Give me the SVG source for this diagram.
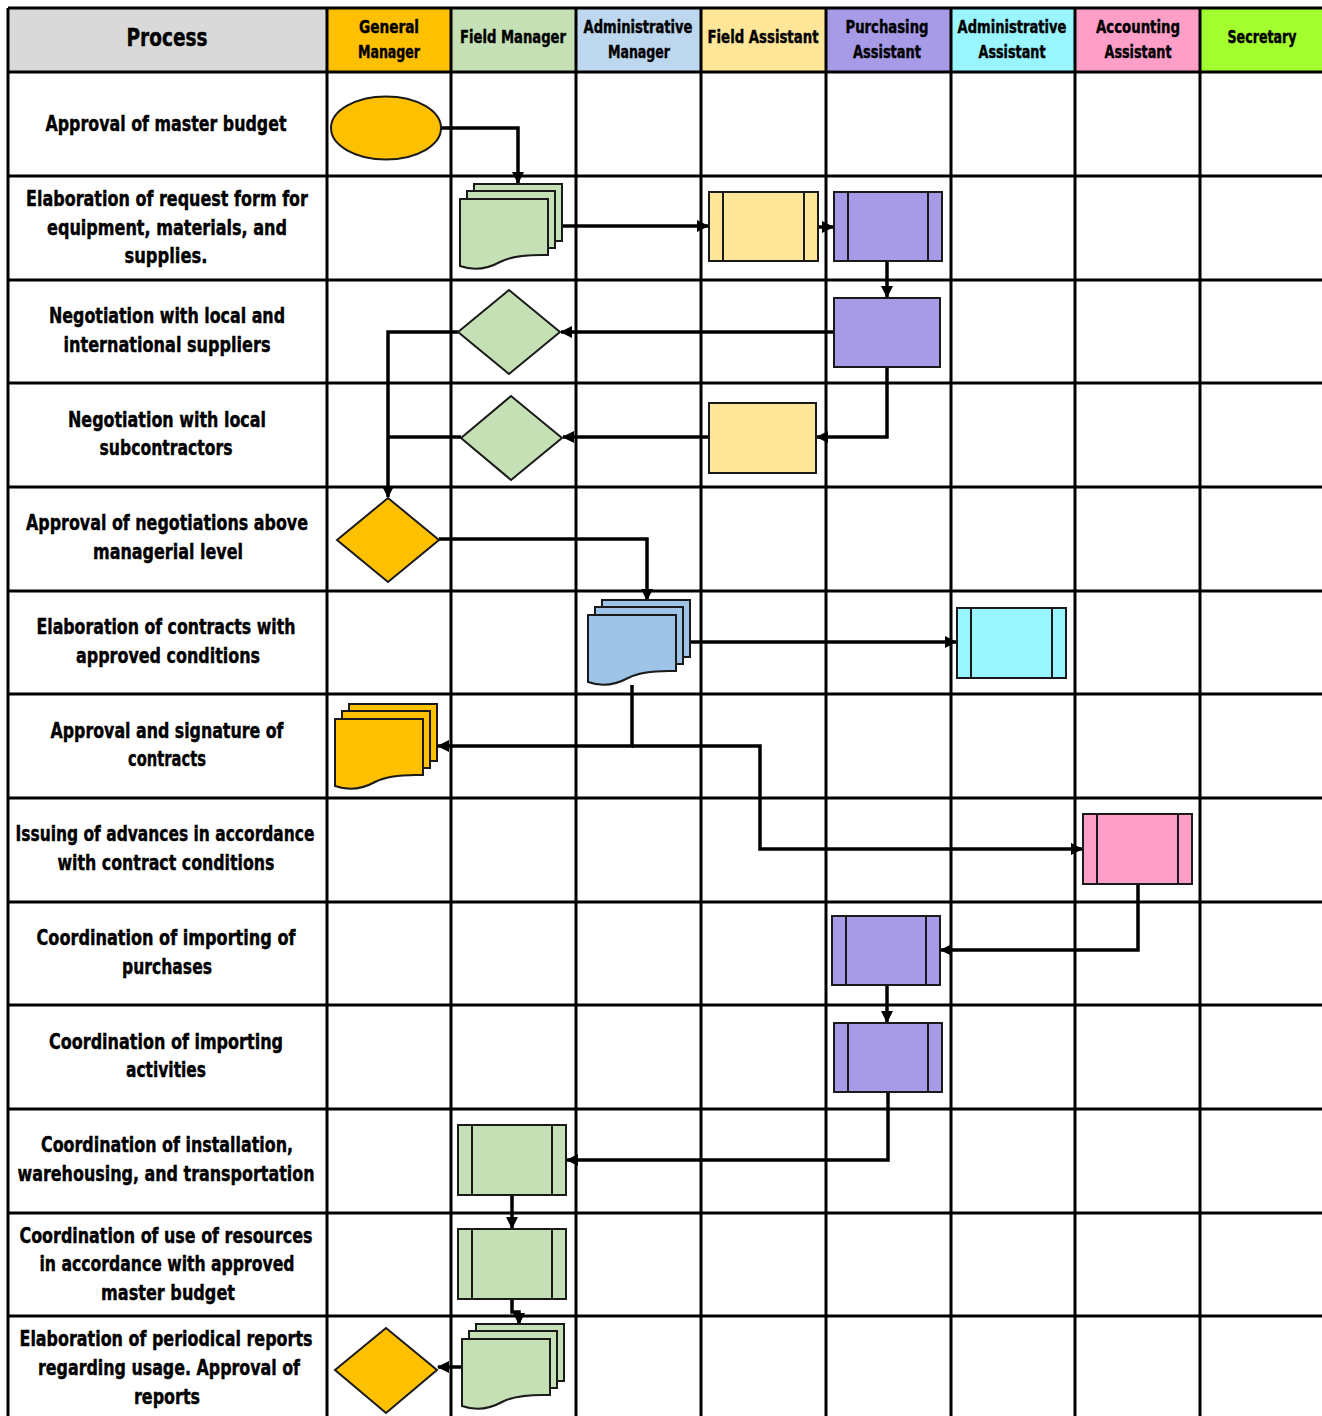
<svg xmlns="http://www.w3.org/2000/svg" xmlns:xlink="http://www.w3.org/1999/xlink" width="1322" height="1416" viewBox="0 0 1322 1416">
<style>
text{font-family:"DejaVu Sans Condensed","DejaVu Sans",sans-serif;font-stretch:condensed;font-weight:bold;fill:#000;stroke:#000;stroke-width:0.4;text-anchor:middle}
.lbl{font-size:21px}
.hd{font-size:17px}
.grid{stroke:#000;stroke-width:3;fill:none}
.node{stroke:#1a1a1a;stroke-width:2}
.conn{stroke:#000;stroke-width:3.5;fill:none;stroke-linejoin:miter}
.arr{marker-end:url(#ah)}
</style>
<defs>
<marker id="ah" markerUnits="userSpaceOnUse" markerWidth="13" markerHeight="13" refX="11" refY="6" orient="auto">
<path d="M0,0 L12,6 L0,12 z" fill="#000"/>
</marker>
<g id="mdoc">
<rect x="14" y="-15" width="88" height="57" stroke="#1a1a1a" stroke-width="2"/>
<rect x="7" y="-8" width="88" height="57" stroke="#1a1a1a" stroke-width="2"/>
<path d="M0,0 H88 V56 Q55,55 40,63 Q20,74 0,67 Z" stroke="#1a1a1a" stroke-width="2"/>
</g>
</defs>
<rect x="0" y="0" width="1322" height="1416" fill="#fff"/>
<g id="header">
<rect x="8" y="8" width="319" height="64" fill="#D9D9D9"/>
<rect x="327" y="8" width="124" height="64" fill="#FFC000"/>
<rect x="451" y="8" width="125" height="64" fill="#C5E0B4"/>
<rect x="576" y="8" width="125" height="64" fill="#BDD7EE"/>
<rect x="701" y="8" width="125" height="64" fill="#FFE699"/>
<rect x="826" y="8" width="125" height="64" fill="#A79BE8"/>
<rect x="951" y="8" width="124" height="64" fill="#99F5FF"/>
<rect x="1075" y="8" width="125" height="64" fill="#FF9FC8"/>
<rect x="1200" y="8" width="122" height="64" fill="#A3FF2E"/>
<text x="167" y="46" style="font-size:25px" textLength="81" lengthAdjust="spacingAndGlyphs">Process</text>
<text class="hd" x="389" y="33" textLength="60" lengthAdjust="spacingAndGlyphs">General</text>
<text class="hd" x="389" y="58" textLength="62" lengthAdjust="spacingAndGlyphs">Manager</text>
<text class="hd" x="513" y="43" textLength="106" lengthAdjust="spacingAndGlyphs">Field Manager</text>
<text class="hd" x="638" y="33" textLength="109" lengthAdjust="spacingAndGlyphs">Administrative</text>
<text class="hd" x="639" y="58" textLength="62" lengthAdjust="spacingAndGlyphs">Manager</text>
<text class="hd" x="763" y="43" textLength="111" lengthAdjust="spacingAndGlyphs">Field Assistant</text>
<text class="hd" x="887" y="33" textLength="83" lengthAdjust="spacingAndGlyphs">Purchasing</text>
<text class="hd" x="887" y="58" textLength="68" lengthAdjust="spacingAndGlyphs">Assistant</text>
<text class="hd" x="1012" y="33" textLength="109" lengthAdjust="spacingAndGlyphs">Administrative</text>
<text class="hd" x="1012" y="58" textLength="67" lengthAdjust="spacingAndGlyphs">Assistant</text>
<text class="hd" x="1138" y="33" textLength="84" lengthAdjust="spacingAndGlyphs">Accounting</text>
<text class="hd" x="1138" y="58" textLength="67" lengthAdjust="spacingAndGlyphs">Assistant</text>
<text class="hd" x="1262" y="43" textLength="69" lengthAdjust="spacingAndGlyphs">Secretary</text>
</g>
<g id="gridlines" class="grid">
<path d="M8,8 H1322 M8,72 H1322 M8,176 H1322 M8,280 H1322 M8,383 H1322 M8,487 H1322 M8,591 H1322 M8,694 H1322 M8,798 H1322 M8,902 H1322 M8,1005 H1322 M8,1109 H1322 M8,1213 H1322 M8,1316 H1322"/>
<path d="M8,8 V1416 M327,8 V1416 M451,8 V1416 M576,8 V1416 M701,8 V1416 M826,8 V1416 M951,8 V1416 M1075,8 V1416 M1200,8 V1416"/>
</g>
<g id="labels" class="lbl">
<text x="166" y="131" textLength="241" lengthAdjust="spacingAndGlyphs">Approval of master budget</text>
<text x="167" y="206" textLength="282" lengthAdjust="spacingAndGlyphs">Elaboration of request form for</text>
<text x="167" y="235" textLength="240" lengthAdjust="spacingAndGlyphs">equipment, materials, and</text>
<text x="166" y="263" textLength="83" lengthAdjust="spacingAndGlyphs">supplies.</text>
<text x="167" y="323" textLength="236" lengthAdjust="spacingAndGlyphs">Negotiation with local and</text>
<text x="167" y="352" textLength="207" lengthAdjust="spacingAndGlyphs">international suppliers</text>
<text x="167" y="427" textLength="198" lengthAdjust="spacingAndGlyphs">Negotiation with local</text>
<text x="166" y="455" textLength="133" lengthAdjust="spacingAndGlyphs">subcontractors</text>
<text x="167" y="530" textLength="282" lengthAdjust="spacingAndGlyphs">Approval of negotiations above</text>
<text x="168" y="559" textLength="150" lengthAdjust="spacingAndGlyphs">managerial level</text>
<text x="166" y="634" textLength="259" lengthAdjust="spacingAndGlyphs">Elaboration of contracts with</text>
<text x="168" y="663" textLength="184" lengthAdjust="spacingAndGlyphs">approved conditions</text>
<text x="167" y="738" textLength="233" lengthAdjust="spacingAndGlyphs">Approval and signature of</text>
<text x="167" y="766" textLength="78" lengthAdjust="spacingAndGlyphs">contracts</text>
<text x="165" y="841" textLength="299" lengthAdjust="spacingAndGlyphs">Issuing of advances in accordance</text>
<text x="166" y="870" textLength="217" lengthAdjust="spacingAndGlyphs">with contract conditions</text>
<text x="166" y="945" textLength="259" lengthAdjust="spacingAndGlyphs">Coordination of importing of</text>
<text x="167" y="974" textLength="90" lengthAdjust="spacingAndGlyphs">purchases</text>
<text x="166" y="1049" textLength="234" lengthAdjust="spacingAndGlyphs">Coordination of importing</text>
<text x="166" y="1077" textLength="80" lengthAdjust="spacingAndGlyphs">activities</text>
<text x="167" y="1152" textLength="252" lengthAdjust="spacingAndGlyphs">Coordination of installation,</text>
<text x="166" y="1181" textLength="297" lengthAdjust="spacingAndGlyphs">warehousing, and transportation</text>
<text x="166" y="1243" textLength="293" lengthAdjust="spacingAndGlyphs">Coordination of use of resources</text>
<text x="167" y="1271" textLength="255" lengthAdjust="spacingAndGlyphs">in accordance with approved</text>
<text x="168" y="1300" textLength="134" lengthAdjust="spacingAndGlyphs">master budget</text>
<text x="166" y="1346" textLength="293" lengthAdjust="spacingAndGlyphs">Elaboration of periodical reports</text>
<text x="169" y="1375" textLength="262" lengthAdjust="spacingAndGlyphs">regarding usage. Approval of</text>
<text x="167" y="1404" textLength="66" lengthAdjust="spacingAndGlyphs">reports</text>
</g>
<g id="connectors" class="conn">
<path class="arr" d="M441,128 H518 V183"/>
<path class="arr" d="M562,226 H708"/>
<path class="arr" d="M818,227 H833"/>
<path class="arr" d="M887,261 V297"/>
<path class="arr" d="M834,332 H561"/>
<path class="arr" d="M458,332 H388 V497"/>
<path class="arr" d="M887,367 V437 H817"/>
<path class="arr" d="M709,437 H563"/>
<path d="M461,437 H388"/>
<path class="arr" d="M439,539 H647 V600"/>
<path class="arr" d="M691,642 H956"/>
<path class="arr" d="M632,685 V746 H438"/>
<path class="arr" d="M632,746 H760 V849 H1082"/>
<path class="arr" d="M1138,884 V950 H941"/>
<path class="arr" d="M887,985 V1022"/>
<path class="arr" d="M888,1092 V1160 H567"/>
<path class="arr" d="M512,1195 V1228"/>
<path class="arr" d="M512,1299 V1312 H519 V1324"/>
<path class="arr" d="M462,1367 H438"/>
</g>
<g id="n1"><ellipse class="node" cx="386" cy="128" rx="55" ry="31.5" fill="#FFC000"/></g>
<g id="n2"><use href="#mdoc" xlink:href="#mdoc" x="460" y="199" fill="#C5E0B4"/></g>
<g id="n3"><rect class="node" x="709" y="192" width="109" height="69" fill="#FFE699"/><path class="node" d="M723,192 V261 M804,192 V261" fill="none"/></g>
<g id="n4"><rect class="node" x="834" y="192" width="108" height="69" fill="#A79BE8"/><path class="node" d="M848,192 V261 M928,192 V261" fill="none"/></g>
<g id="n5"><rect class="node" x="834" y="298" width="106" height="69" fill="#A79BE8"/></g>
<g id="n6"><polygon class="node" points="458,332 509,290 560,332 509,374" fill="#C5E0B4"/></g>
<g id="n7"><rect class="node" x="709" y="403" width="107" height="70" fill="#FFE699"/></g>
<g id="n8"><polygon class="node" points="461,438 511,396 562,438 511,480" fill="#C5E0B4"/></g>
<g id="n9"><polygon class="node" points="337,540 388,498 439,540 388,582" fill="#FFC000"/></g>
<g id="n10"><use href="#mdoc" xlink:href="#mdoc" x="588" y="615" fill="#9DC3E6"/></g>
<g id="n11"><rect class="node" x="957" y="608" width="109" height="70" fill="#99F5FF"/><path class="node" d="M971,608 V678 M1052,608 V678" fill="none"/></g>
<g id="n12"><use href="#mdoc" xlink:href="#mdoc" x="335" y="719" fill="#FFC000"/></g>
<g id="n13"><rect class="node" x="1083" y="814" width="109" height="70" fill="#FF9FC8"/><path class="node" d="M1097,814 V884 M1178,814 V884" fill="none"/></g>
<g id="n14"><rect class="node" x="832" y="916" width="108" height="69" fill="#A79BE8"/><path class="node" d="M846,916 V985 M926,916 V985" fill="none"/></g>
<g id="n15"><rect class="node" x="834" y="1023" width="108" height="69" fill="#A79BE8"/><path class="node" d="M848,1023 V1092 M928,1023 V1092" fill="none"/></g>
<g id="n16"><rect class="node" x="458" y="1125" width="108" height="70" fill="#C5E0B4"/><path class="node" d="M472,1125 V1195 M552,1125 V1195" fill="none"/></g>
<g id="n17"><rect class="node" x="458" y="1229" width="108" height="70" fill="#C5E0B4"/><path class="node" d="M472,1229 V1299 M552,1229 V1299" fill="none"/></g>
<g id="n18"><use href="#mdoc" xlink:href="#mdoc" x="462" y="1339" fill="#C5E0B4"/></g>
<g id="n19"><polygon class="node" points="335,1370 386,1328 437,1370 386,1413" fill="#FFC000"/></g>
</svg>
